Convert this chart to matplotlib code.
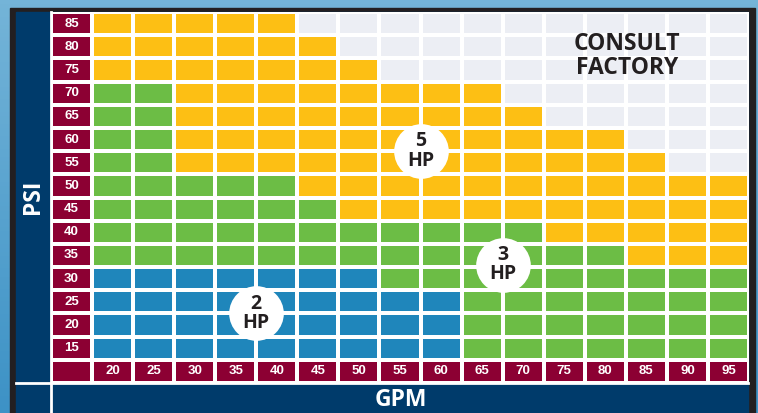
import numpy as np
import matplotlib.pyplot as plt
from matplotlib.colors import ListedColormap, LinearSegmentedColormap
from matplotlib.patches import Rectangle

# Dane
gpm = [20, 25, 30, 35, 40, 45, 50, 55, 60, 65, 70, 75, 80, 85, 90, 95]
psi = [85, 80, 75, 70, 65, 60, 55, 50, 45, 40, 35, 30, 25, 20, 15]

# najwieksze GPM obslugiwane przez dany silnik przy danym PSI (0 = brak)
max_gpm_2hp = [0, 0, 0, 0, 0, 0, 0, 0, 0, 0, 0, 50, 60, 60, 60]
max_gpm_3hp = [0, 0, 0, 25, 25, 25, 25, 40, 45, 70, 80, 95, 95, 95, 95]
max_gpm_5hp = [40, 45, 50, 65, 70, 80, 85, 95, 95, 95, 95, 95, 95, 95, 95]

hp_labels = ['2\nHP', '3\nHP', '5\nHP']
hp_pos = [(37.5, 22.5), (67.5, 33.0), (57.5, 57.5)]
consult_text = 'CONSULT\nFACTORY'

# kolory: 0 etykieta, 1 = 2HP, 2 = 3HP, 3 = 5HP, 4 = konsultacja
kolory = ['#8c0033', '#1f86bb', '#6cbd45', '#fdbf14', '#eceef4']
cmap = ListedColormap(kolory)

def strefa(g, i):
    if g <= max_gpm_2hp[i]:
        return 1
    if g <= max_gpm_3hp[i]:
        return 2
    if g <= max_gpm_5hp[i]:
        return 3
    return 4

# macierz komorek: wiersze od dolu (rzad etykiet GPM), kolumna 0 to etykiety PSI
wiersze = [[0] * (len(gpm) + 1)]
for i in range(len(psi) - 1, -1, -1):
    wiersze.append([0] + [strefa(g, i) for g in gpm])
macierz = np.array(wiersze)

x_kraw = np.arange(12.5, 97.5 + 0.1, 5)
y_kraw = np.arange(7.5, 87.5 + 0.1, 5)

fig = plt.figure(figsize=(7.58, 4.13), dpi=100)

# tlo i ramka (wspolrzedne w pikselach)
tlo = fig.add_axes([0, 0, 1, 1])
tlo.set_xlim(0, 758)
tlo.set_ylim(413, 0)
tlo.axis('off')
grad = np.linspace(0, 1, 100).reshape(-1, 1)
tlo.imshow(grad, extent=[0, 758, 413, 0], aspect='auto',
           cmap=LinearSegmentedColormap.from_list('tlo', ['#74b4d8', '#3d92c6']), zorder=0)
tlo.add_patch(Rectangle((10, 8), 745, 410, color='#231f20', zorder=1))
tlo.add_patch(Rectangle((16, 12), 732, 410, color='#003b6b', zorder=2))
tlo.plot([16, 748], [383, 383], color='white', lw=2, zorder=3)
tlo.plot([51, 51], [12, 413], color='white', lw=2, zorder=3)
tlo.text(33, 197, 'PSI', rotation=90, color='white', fontsize=16.5,
         fontweight='bold', family='Open Sans', ha='center', va='center', zorder=4)
tlo.text(401, 400, 'GPM', color='white', fontsize=16.5, fontweight='bold',
         family='Open Sans', ha='center', va='center', zorder=4)

# siatka
ax = fig.add_axes([51 / 758, 1 - 383 / 413, 698 / 758, 371 / 413])
ax.pcolormesh(x_kraw, y_kraw, macierz, cmap=cmap, vmin=-0.5, vmax=4.5,
              edgecolors='white', linewidth=1.6)
ax.set_xlim(12.5, 97.5)
ax.set_ylim(7.5, 87.5)
ax.axis('off')

for p in psi:
    ax.text(15, p, str(p), color='white', fontsize=9.5, fontweight='bold',
            family='Liberation Sans', ha='center', va='center')
for g in gpm:
    ax.text(g, 10, str(g), color='white', fontsize=9.5, fontweight='bold',
            family='Liberation Sans', ha='center', va='center')

for lab, (x, y) in zip(hp_labels, hp_pos):
    ax.scatter([x], [y], s=1550, color='white', linewidths=0, zorder=5)
    ax.text(x, y, lab, color='#231f20', fontsize=14, fontweight='bold',
            family='Open Sans', ha='center', va='center', linespacing=0.95, zorder=6)

ax.text(82.6, 78, consult_text, color='#231f20', fontsize=16.5, fontweight='bold',
        family='Open Sans', ha='center', va='center', linespacing=1.0)

fig.savefig('out.png', dpi=100)
